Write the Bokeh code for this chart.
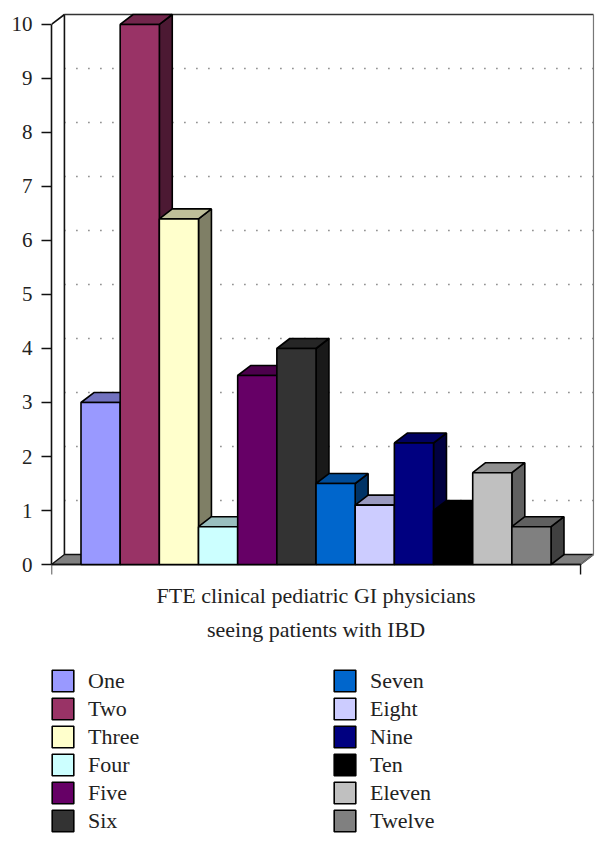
from bokeh.plotting import figure
from bokeh.models import Range1d, LinearAxis, FixedTicker, Legend, LegendItem, Label
from bokeh.embed import file_html
from bokeh.resources import INLINE

names = ["One", "Two", "Three", "Four", "Five", "Six", "Seven", "Eight", "Nine", "Ten", "Eleven", "Twelve"]
values = [3.0, 10.0, 6.4, 0.7, 3.5, 4.0, 1.5, 1.1, 2.25, 1.0, 1.7, 0.7]
colors = ["#9999FF", "#993366", "#FFFFCC", "#CCFFFF", "#660066", "#333333",
          "#0066CC", "#CCCCFF", "#000080", "#000000", "#C0C0C0", "#808080"]
y_ticks = list(range(0, 11))
axis_title = ["FTE clinical pediatric GI physicians", "seeing patients with IBD"]

FONT = "Liberation Serif"
DX, DY = 0.33, 0.185          # oblique depth of the 3-D effect, in data units
X0, X1 = -0.753, 12.753       # front floor edge
TICK = 0.185
INK = "#111111"


def shade(hex_color, k):
    r, g, b = (int(hex_color[i:i + 2], 16) for i in (1, 3, 5))
    return "#%02x%02x%02x" % (int(r * k), int(g * k), int(b * k))


p = figure(width=607, height=846, output_backend="svg", toolbar_location=None,
           x_range=Range1d(X0, 13.441), y_range=Range1d(-5.222, 10.222),
           x_axis_type=None, y_axis_type=None,
           min_border_left=51, min_border_right=0, min_border_top=12, min_border_bottom=0)
p.grid.visible = False
p.outline_line_color = None
p.background_fill_color = None

# floor
p.patch([X0, X0 + DX, X1 + DX, X1], [0, DY, DY, 0], fill_color="#808080",
        line_color=INK, line_width=1.4)
# dotted grid on the back wall
for t in y_ticks[1:10]:
    p.line([X0 + DX, X1 + DX], [t + DY, t + DY], line_color="#444444", line_width=1.4,
           line_dash="1 11")
# walls
p.line([X0, X0 + DX, X0 + DX], [10, 10 + DY, DY], line_color=INK, line_width=1.6)
p.line([X0 + DX, X1 + DX], [10 + DY, 10 + DY], line_color="#333333", line_width=1.5)
p.line([X1 + DX, X1 + DX, X1], [10 + DY, DY, 0], line_color="#777777", line_width=1.2)
# floor front edge and its end ticks
p.line([X0, X1], [0, 0], line_color=INK, line_width=1.6)
p.segment([X0, X1], [0, 0], [X0, X1], [-TICK, -TICK], line_color=INK, line_width=1.4)

# bars, left to right
fronts = []
for i, (v, c) in enumerate(zip(values, colors)):
    l, r = i, i + 1
    p.patch([r, r + DX, r + DX, r], [0, DY, v + DY, v], fill_color=shade(c, 0.5),
            line_color="black", line_width=1.6)
    p.patch([l, l + DX, r + DX, r], [v, v + DY, v + DY, v], fill_color=shade(c, 0.75),
            line_color="black", line_width=1.6)
    fronts.append(p.quad(left=l, right=r, bottom=0, top=v, fill_color=c,
                         line_color="black", line_width=1.6))

# value axis
yax = LinearAxis(ticker=FixedTicker(ticks=y_ticks), bounds=(0, 10), major_tick_out=10, major_tick_in=0,
                 minor_tick_line_color=None, axis_line_color=INK, axis_line_width=1.6,
                 major_tick_line_color=INK, major_tick_line_width=1.4,
                 major_label_standoff=9, major_label_text_font=FONT,
                 major_label_text_font_size="21px", major_label_text_color="#222222")
p.add_layout(yax, "left")

# axis title
for line, yy in zip(axis_title, (-0.574, -1.204)):
    p.add_layout(Label(x=6, y=yy, text=line, text_align="center", text_baseline="middle",
                       text_font=FONT, text_font_size="22px", text_color="#222222"))

# legends
for start, xloc in ((0, -2), (6, 280)):
    items = [LegendItem(label=names[k], renderers=[fronts[k]]) for k in range(start, start + 6)]
    leg = Legend(items=items, location=(xloc, 12), orientation="vertical",
                 glyph_width=27, glyph_height=27, spacing=1, padding=0, margin=0,
                 label_standoff=12, border_line_color=None, background_fill_alpha=0,
                 label_text_font=FONT, label_text_font_size="22px",
                 label_text_color="#222222", click_policy="none")
    p.add_layout(leg, "center")

open("out.html", "w").write(file_html(p, INLINE))
